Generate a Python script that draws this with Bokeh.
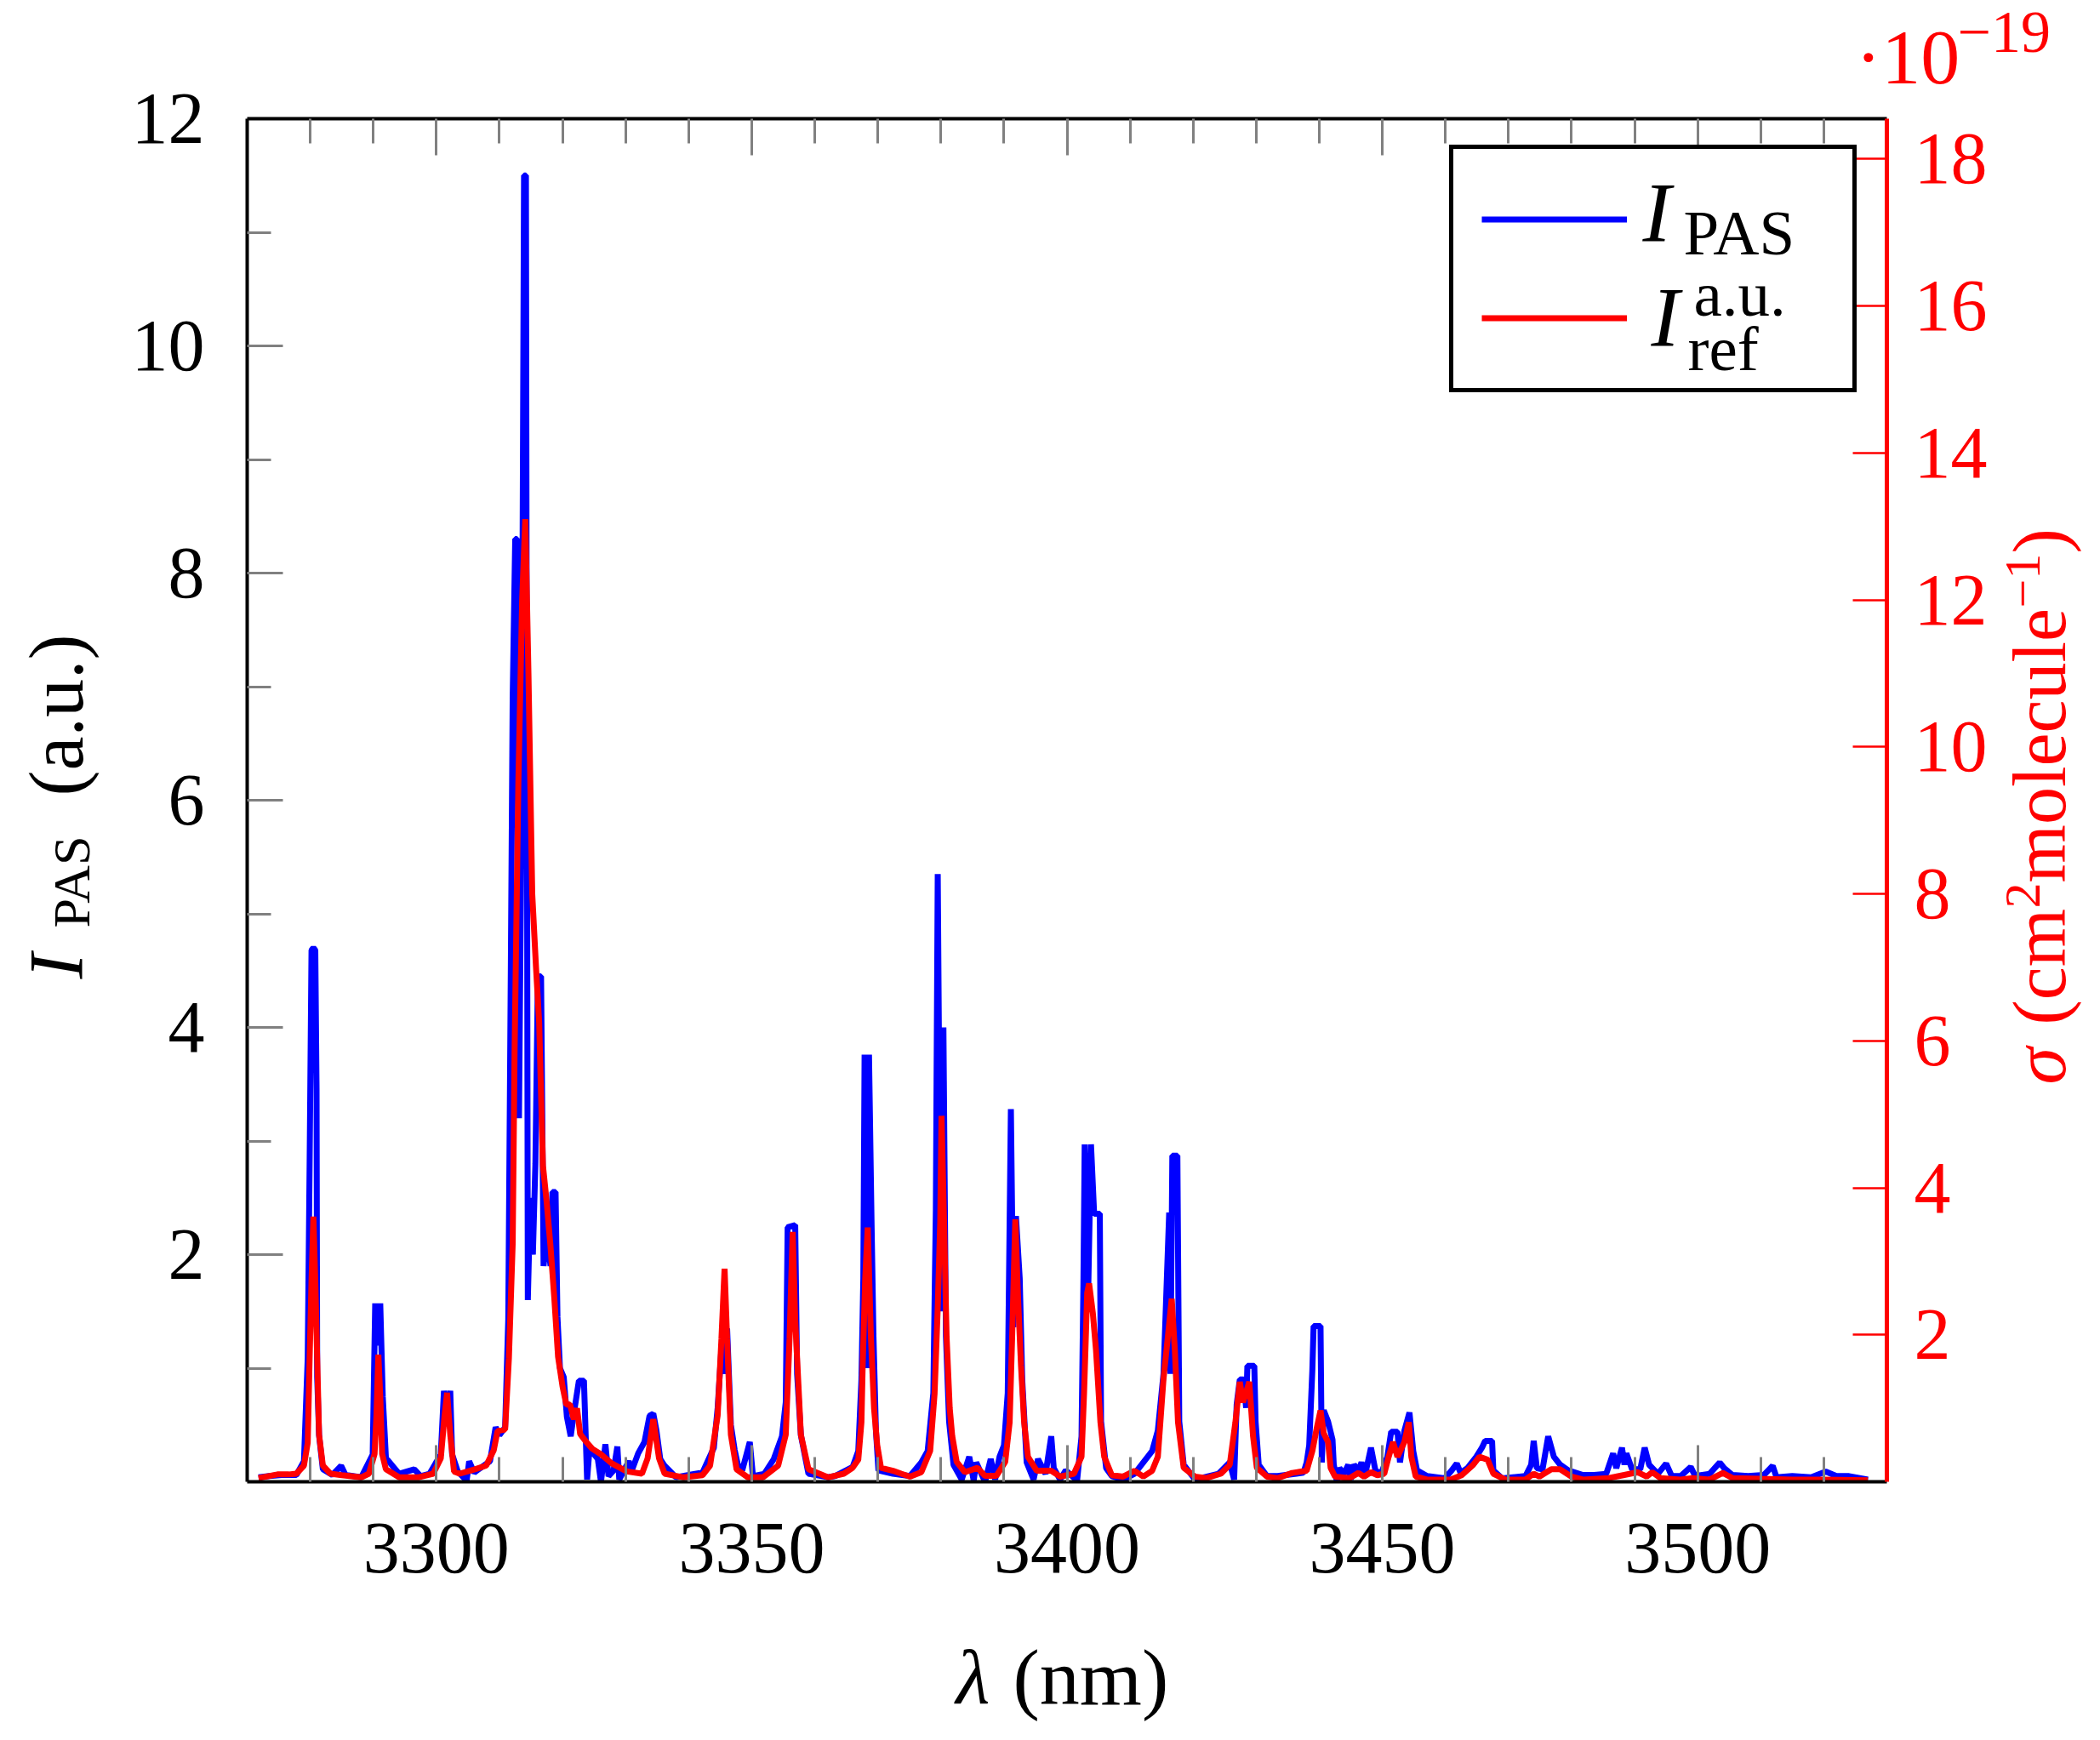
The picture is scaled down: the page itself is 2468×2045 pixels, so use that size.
import math
from bokeh.plotting import figure
from bokeh.models import (Range1d, LinearAxis, FixedTicker, Label, Legend,
                          LegendItem, CustomJSTickFormatter)
from bokeh.core.properties import value
from bokeh.embed import file_html
from bokeh.resources import INLINE

# ---------------- data ----------------
wavelength_pas = [
    3271.8, 3273.5, 3275.5, 3277.8, 3279.0, 3279.6, 3279.9, 3280.2, 3280.5, 3280.8,
    3281.0, 3281.1, 3281.4, 3282.0, 3283.5, 3284.9, 3285.6, 3288.1, 3289.9, 3290.3,
    3290.7, 3291.1, 3291.5, 3292.0, 3294.1, 3296.5, 3297.5, 3298.9, 3300.7, 3301.2,
    3301.7, 3302.2, 3302.5, 3303.4, 3304.8, 3305.2, 3306.0, 3306.7, 3308.5, 3309.4,
    3310.0, 3310.9, 3311.4, 3311.8, 3312.1, 3312.5, 3312.8, 3313.1, 3313.5, 3313.9,
    3314.2, 3314.5, 3314.9, 3315.3, 3315.7, 3316.1, 3316.6, 3317.0, 3317.5, 3318.1,
    3318.4, 3318.9, 3319.2, 3319.6, 3320.2, 3320.7, 3321.3, 3321.8, 3322.6, 3323.4,
    3323.9, 3324.3, 3324.9, 3325.6, 3326.1, 3326.8, 3327.3, 3328.1, 3328.7, 3329.0,
    3330.5, 3331.0, 3332.0, 3333.0, 3333.8, 3334.4, 3334.9, 3335.5, 3336.2, 3338.0,
    3341.0, 3342.2, 3344.0, 3344.6, 3345.2, 3345.7, 3346.1, 3346.7, 3347.3, 3347.8,
    3348.5, 3349.7, 3350.2, 3352.0, 3353.5, 3354.8, 3355.4, 3355.7, 3356.9, 3357.2,
    3357.8, 3359.0, 3362.1, 3363.2, 3366.0, 3366.9, 3367.4, 3367.7, 3367.9, 3368.3,
    3368.6, 3369.0, 3369.3, 3369.7, 3370.1, 3372.4, 3375.1, 3376.9, 3377.9, 3378.8,
    3379.2, 3379.5, 3380.0, 3380.4, 3380.8, 3381.3, 3382.0, 3383.3, 3384.5, 3385.2,
    3385.6, 3387.0, 3387.9, 3388.6, 3389.3, 3390.0, 3390.6, 3391.1, 3391.5, 3391.9,
    3392.5, 3392.9, 3393.6, 3394.7, 3395.4, 3396.6, 3397.5, 3397.9, 3398.9, 3399.8,
    3401.6, 3402.3, 3402.6, 3402.8, 3403.3, 3403.8, 3404.3, 3405.2, 3405.4, 3406.2,
    3407.1, 3408.9, 3410.7, 3413.5, 3414.4, 3415.3, 3416.2, 3416.4, 3416.7, 3417.5,
    3417.8, 3418.5, 3420.3, 3424.0, 3425.8, 3426.5, 3426.9, 3427.4, 3428.0, 3428.4,
    3428.6, 3429.7, 3429.9, 3430.4, 3431.7, 3433.4, 3437.5, 3438.0, 3438.4, 3438.9,
    3439.1, 3440.2, 3440.4, 3440.7, 3441.4, 3442.1, 3442.3, 3442.8, 3443.2, 3443.9,
    3444.6, 3445.0, 3445.5, 3446.2, 3446.7, 3447.3, 3448.2, 3448.9, 3449.8, 3450.8,
    3451.4, 3452.4, 3452.8, 3453.5, 3454.3, 3454.9, 3455.5, 3457.1, 3459.9, 3461.0,
    3461.8, 3462.4, 3463.5, 3464.9, 3465.8, 3466.3, 3467.4, 3467.6, 3469.0, 3472.7,
    3473.6, 3474.0, 3474.5, 3475.4, 3476.3, 3477.2, 3478.2, 3479.5, 3481.8, 3483.6,
    3485.5, 3486.6, 3487.1, 3488.0, 3488.4, 3488.7, 3489.6, 3490.9, 3491.6, 3492.3,
    3493.7, 3495.0, 3495.9, 3497.3, 3498.9, 3499.6, 3501.9, 3503.5, 3504.2, 3505.5,
    3508.0, 3510.5, 3511.9, 3512.5, 3515.0, 3518.0, 3520.3, 3522.0, 3524.0, 3527.0,
]
intensity_pas = [
    0.04, 0.05, 0.06, 0.06, 0.18, 1.09, 2.79, 4.68, 4.70, 4.68,
    3.46, 0.92, 0.41, 0.11, 0.06, 0.14, 0.06, 0.04, 0.24, 1.57,
    1.20, 1.57, 0.75, 0.21, 0.07, 0.11, 0.05, 0.07, 0.24, 0.80,
    0.55, 0.80, 0.24, 0.09, 0.01, 0.18, 0.08, 0.11, 0.18, 0.48,
    0.41, 0.48, 1.43, 4.48, 6.90, 8.30, 8.30, 3.20, 5.80, 11.50,
    11.50, 1.60, 2.50, 2.00, 2.80, 4.45, 4.45, 1.90, 2.20, 1.90,
    2.55, 2.55, 1.45, 1.00, 0.92, 0.57, 0.40, 0.60, 0.89, 0.89,
    0.02, 0.30, 0.25, 0.20, 0.00, 0.33, 0.05, 0.10, 0.31, 0.02,
    0.18, 0.10, 0.25, 0.35, 0.58, 0.60, 0.45, 0.20, 0.14, 0.04,
    0.07, 0.08, 0.30, 0.65, 1.17, 0.95, 1.35, 0.50, 0.28, 0.15,
    0.10, 0.35, 0.05, 0.07, 0.20, 0.40, 0.70, 2.24, 2.26, 0.95,
    0.41, 0.07, 0.04, 0.05, 0.13, 0.27, 0.90, 1.79, 3.76, 1.00,
    3.76, 2.30, 1.30, 0.45, 0.10, 0.07, 0.05, 0.17, 0.27, 0.78,
    2.39, 5.35, 1.50, 4.00, 1.28, 0.53, 0.15, 0.02, 0.22, 0.01,
    0.17, 0.00, 0.20, 0.02, 0.22, 0.32, 0.78, 3.28, 1.36, 2.34,
    1.79, 0.90, 0.17, 0.02, 0.20, 0.07, 0.40, 0.12, 0.02, 0.10,
    0.01, 0.40, 1.74, 2.97, 1.50, 2.97, 2.36, 2.36, 0.53, 0.12,
    0.05, 0.02, 0.07, 0.27, 0.45, 0.95, 2.37, 0.95, 2.87, 2.87,
    0.53, 0.15, 0.02, 0.07, 0.17, 0.02, 0.68, 0.90, 0.90, 0.65,
    1.02, 1.02, 0.53, 0.15, 0.05, 0.05, 0.08, 0.17, 0.32, 0.98,
    1.37, 1.37, 0.17, 0.63, 0.53, 0.37, 0.15, 0.00, 0.12, 0.07,
    0.15, 0.02, 0.15, 0.10, 0.17, 0.07, 0.30, 0.10, 0.07, 0.22,
    0.44, 0.44, 0.17, 0.45, 0.61, 0.27, 0.10, 0.05, 0.03, 0.10,
    0.16, 0.08, 0.12, 0.22, 0.30, 0.36, 0.36, 0.10, 0.03, 0.05,
    0.15, 0.36, 0.12, 0.11, 0.40, 0.22, 0.15, 0.10, 0.06, 0.06,
    0.07, 0.25, 0.12, 0.30, 0.15, 0.25, 0.11, 0.11, 0.30, 0.15,
    0.07, 0.16, 0.05, 0.05, 0.13, 0.05, 0.07, 0.17, 0.12, 0.06,
    0.05, 0.06, 0.14, 0.04, 0.05, 0.04, 0.09, 0.05, 0.05, 0.02,
]

wavelength_ref = [
    3271.8, 3274.8, 3276.6, 3277.8, 3279.0, 3279.6, 3279.9, 3280.2, 3280.5, 3280.8,
    3281.1, 3281.4, 3282.0, 3283.2, 3285.0, 3288.1, 3289.3, 3290.2, 3290.5, 3290.8,
    3291.1, 3291.4, 3292.0, 3294.1, 3297.1, 3299.5, 3300.7, 3301.3, 3301.7, 3302.2,
    3302.8, 3303.7, 3306.1, 3307.9, 3309.1, 3309.7, 3310.9, 3311.5, 3312.1, 3312.4,
    3313.0, 3313.6, 3314.1, 3314.6, 3315.2, 3315.8, 3316.3, 3316.9, 3317.5, 3318.1,
    3318.7, 3319.3, 3320.0, 3320.6, 3321.2, 3321.8, 3322.3, 3322.8, 3323.7, 3324.7,
    3326.0, 3327.8, 3330.2, 3332.6, 3333.5, 3334.4, 3335.3, 3336.2, 3339.2, 3342.2,
    3343.4, 3344.6, 3345.2, 3345.7, 3346.1, 3346.7, 3347.6, 3349.4, 3351.8, 3354.2,
    3355.4, 3356.0, 3356.5, 3356.9, 3357.8, 3359.0, 3362.1, 3364.6, 3366.0, 3366.9,
    3367.4, 3367.6, 3368.0, 3368.4, 3368.7, 3368.9, 3369.4, 3369.9, 3370.5, 3372.4,
    3373.7, 3375.1, 3376.9, 3378.3, 3379.0, 3379.5, 3379.9, 3380.1, 3380.5, 3380.9,
    3381.4, 3381.8, 3382.5, 3383.8, 3385.8, 3387.0, 3388.8, 3390.2, 3390.9, 3391.3,
    3391.8, 3392.2, 3392.7, 3393.2, 3393.8, 3395.2, 3397.5, 3398.9, 3401.1, 3402.3,
    3402.7, 3403.2, 3403.5, 3404.1, 3404.6, 3405.3, 3405.9, 3407.1, 3408.9, 3410.7,
    3412.1, 3413.5, 3414.4, 3415.3, 3416.0, 3416.6, 3417.1, 3417.6, 3418.5, 3420.3,
    3422.1, 3424.4, 3425.8, 3426.7, 3427.4, 3427.9, 3428.9, 3429.5, 3430.1, 3431.7,
    3433.4, 3435.7, 3438.0, 3438.9, 3439.6, 3440.2, 3440.7, 3441.4, 3441.8, 3442.5,
    3444.8, 3446.2, 3447.1, 3448.2, 3449.2, 3450.3, 3451.0, 3451.7, 3452.4, 3453.5,
    3454.2, 3454.6, 3455.3, 3457.1, 3460.8, 3462.6, 3464.4, 3465.4, 3466.7, 3467.6,
    3469.5, 3472.7, 3474.0, 3474.9, 3476.8, 3478.2, 3480.0, 3481.8, 3485.9, 3488.2,
    3490.5, 3491.9, 3492.8, 3494.1, 3497.3, 3499.2, 3501.9, 3504.0, 3505.5, 3510.0,
    3515.0, 3520.0, 3527.0,
]
# absorption cross section, in units of 1e-19 cm^2 molecule^-1
sigma_ref = [
    0.05, 0.10, 0.10, 0.11, 0.22, 0.53, 1.68, 2.72, 3.61, 2.72,
    1.68, 0.64, 0.22, 0.11, 0.09, 0.06, 0.11, 0.38, 0.90, 1.73,
    1.16, 0.38, 0.17, 0.06, 0.06, 0.11, 0.32, 0.90, 1.21, 0.64,
    0.14, 0.11, 0.17, 0.22, 0.43, 0.69, 0.71, 1.68, 3.24, 5.85,
    9.50, 12.00, 13.10, 11.00, 8.00, 7.00, 6.25, 4.30, 3.80, 3.20,
    2.50, 1.70, 1.30, 1.05, 1.05, 0.85, 1.00, 0.65, 0.55, 0.45,
    0.38, 0.25, 0.14, 0.11, 0.32, 0.85, 0.32, 0.11, 0.06, 0.09,
    0.22, 0.90, 1.94, 2.90, 1.94, 0.64, 0.17, 0.06, 0.06, 0.22,
    0.64, 1.94, 3.40, 2.20, 0.64, 0.17, 0.06, 0.11, 0.19, 0.30,
    0.81, 1.59, 2.76, 3.46, 2.57, 1.98, 1.00, 0.50, 0.19, 0.15,
    0.11, 0.07, 0.13, 0.42, 1.20, 2.37, 3.54, 4.98, 3.54, 1.98,
    1.00, 0.62, 0.27, 0.13, 0.19, 0.08, 0.08, 0.27, 0.81, 1.98,
    3.57, 2.57, 1.59, 0.81, 0.34, 0.15, 0.15, 0.07, 0.11, 0.34,
    1.20, 2.57, 2.70, 2.29, 1.79, 0.81, 0.34, 0.09, 0.07, 0.15,
    0.07, 0.15, 0.34, 1.40, 1.98, 2.49, 1.79, 0.81, 0.19, 0.07,
    0.05, 0.11, 0.23, 0.81, 1.36, 1.08, 1.36, 0.62, 0.19, 0.07,
    0.05, 0.12, 0.15, 0.42, 0.73, 0.97, 0.66, 0.54, 0.19, 0.07,
    0.05, 0.12, 0.07, 0.13, 0.09, 0.11, 0.34, 0.54, 0.34, 0.54,
    0.81, 0.34, 0.07, 0.03, 0.03, 0.09, 0.23, 0.34, 0.30, 0.11,
    0.03, 0.03, 0.11, 0.07, 0.17, 0.17, 0.07, 0.03, 0.05, 0.09,
    0.13, 0.07, 0.13, 0.05, 0.03, 0.05, 0.03, 0.12, 0.05, 0.04,
    0.03, 0.03, 0.02,
]

x_major_ticks = [3300, 3350, 3400, 3450, 3500]
x_minor_ticks = [3280, 3290, 3310, 3320, 3330, 3340, 3360, 3370, 3380, 3390,
                 3410, 3420, 3430, 3440, 3460, 3470, 3480, 3490, 3510, 3520]
left_major_ticks = [2, 4, 6, 8, 10]          # "12" sits on the frame corner
left_minor_ticks = [1, 3, 5, 7, 9, 11]
right_major_ticks = [2, 4, 6, 8, 10, 12, 14, 16, 18]

# ---------------- layout constants ----------------
FONT = "Liberation Serif"
GRAY = "#808080"
BLUE = "#0000ff"
RED = "#ff0000"

X0, X1 = 3270.0, 3530.0
Y0, Y1 = 0.0, 12.0
S1 = 18.55

FRAME_L, FRAME_T = 290, 139
FRAME_W, FRAME_H = 1927, 1602
BORDER_R, BORDER_B = 245, 300
CANVAS_W = FRAME_L + FRAME_W + BORDER_R
CANVAS_H = FRAME_T + FRAME_H + BORDER_B

p = figure(frame_width=FRAME_W, frame_height=FRAME_H,
           x_range=Range1d(X0, X1), y_range=Range1d(Y0, Y1),
           output_backend="svg", toolbar_location=None,
           x_axis_location=None, y_axis_location=None,
           min_border_left=FRAME_L, min_border_top=FRAME_T,
           min_border_right=BORDER_R, min_border_bottom=BORDER_B)
p.extra_y_ranges = {"sigma": Range1d(0, S1)}
p.grid.visible = False
p.outline_line_color = None
p.background_fill_color = "white"
p.border_fill_color = "white"


def style_axis(ax, line_color, line_width, tick_color, major_in, minor_in,
               label_color, standoff):
    ax.axis_line_color = line_color
    ax.axis_line_width = line_width
    ax.major_tick_line_color = tick_color
    ax.major_tick_line_width = 3
    ax.major_tick_in = major_in
    ax.major_tick_out = 0
    ax.minor_tick_line_color = tick_color
    ax.minor_tick_line_width = 3
    ax.minor_tick_in = minor_in
    ax.minor_tick_out = 0
    ax.major_label_text_font = FONT
    ax.major_label_text_font_size = "86px"
    ax.major_label_text_color = label_color
    ax.major_label_standoff = standoff


bottom = LinearAxis(ticker=FixedTicker(ticks=x_major_ticks, minor_ticks=x_minor_ticks))
style_axis(bottom, "black", 4, GRAY, 43, 29, "black", 49)
p.add_layout(bottom, "below")

top = LinearAxis(ticker=FixedTicker(ticks=x_major_ticks, minor_ticks=x_minor_ticks),
                 formatter=CustomJSTickFormatter(code="return ''"))
style_axis(top, "black", 4, GRAY, 43, 29, "black", 0)
top.major_label_text_font_size = "1px"
p.add_layout(top, "above")

left = LinearAxis(ticker=FixedTicker(ticks=left_major_ticks, minor_ticks=left_minor_ticks))
style_axis(left, "black", 4, GRAY, 42, 28, "black", 50)
p.add_layout(left, "left")

right = LinearAxis(y_range_name="sigma",
                   ticker=FixedTicker(ticks=right_major_ticks, minor_ticks=[]))
style_axis(right, RED, 5, RED, 40, 0, RED, 32)
right.major_tick_line_width = 2.5
right.minor_tick_line_color = None
p.add_layout(right, "right")

# ---------------- data lines ----------------
r_blue = p.line(wavelength_pas, intensity_pas, line_color=BLUE, line_width=7)
r_red = p.line(wavelength_ref, sigma_ref, line_color=RED, line_width=7,
               y_range_name="sigma")

# ---------------- legend box + line samples ----------------
legend = Legend(items=[LegendItem(label=value(" "), renderers=[r_blue]),
                       LegendItem(label=value(" "), renderers=[r_red])],
                location=(1703 - FRAME_L, FRAME_T + FRAME_H - 461),
                orientation="vertical", padding=33, spacing=17, margin=0,
                glyph_width=171, glyph_height=99, label_width=222,
                label_height=99, label_standoff=10,
                label_text_font_size="10px",
                border_line_color="black", border_line_width=5,
                border_line_alpha=1.0,
                background_fill_color="white", background_fill_alpha=1.0)
p.add_layout(legend)

# ---------------- text layer (same canvas size, pixel coordinates) ----------------
txt = figure(width=CANVAS_W, height=CANVAS_H,
             x_range=Range1d(0, CANVAS_W), y_range=Range1d(CANVAS_H, 0),
             output_backend="svg", toolbar_location=None,
             x_axis_location=None, y_axis_location=None, min_border=0)
txt.grid.visible = False
txt.outline_line_color = None
txt.background_fill_color = None
txt.border_fill_color = None
txt.styles = {"position": "absolute", "left": "0px", "top": "0px"}

ROT = math.pi / 2
MID = 0.3375   # distance baseline -> text middle, in em (Liberation Serif)


def lab(text, px, py, size, color="black", style="normal", align="left",
        angle=0.0):
    """Place text so that its baseline sits at (px, py) (page pixels)."""
    off = MID * size
    if angle == 0.0:
        ax_, ay_ = px, py - off
    else:                       # rotated a quarter turn, reading upwards
        ax_, ay_ = px - off, py
    txt.add_layout(Label(x=ax_, y=ay_, text=text, text_font=FONT,
                         text_font_size=f"{size}px", text_color=color,
                         text_font_style=style, text_align=align,
                         text_baseline="middle", angle=angle))


# top-left tick label of the left axis
txt.add_layout(Label(x=FRAME_L - 50, y=FRAME_T, text="12", text_font=FONT,
                     text_font_size="86px", text_color="black",
                     text_align="right", text_baseline="middle"))

# legend entries
lab("I", 1930, 283, 100, style="italic")
lab("PAS", 1978, 298, 75)
lab("I", 1940, 406, 100, style="italic")
lab("a.u.", 1990, 370, 75)
lab("ref", 1983, 434, 75)

# x axis title
lab("λ", 1123, 2002, 92, style="italic")
lab("(nm)", 1190, 2002, 94)

# left axis title (rotated)
lab("I", 96, 1135, 90, style="italic", align="center", angle=ROT)
lab("PAS", 104, 1036, 62, align="center", angle=ROT)
lab("(a.u.)", 96, 840, 90, align="center", angle=ROT)

# right axis title (rotated, red)
lab("σ", 2427, 1274, 88, color=RED, style="italic", angle=ROT)
lab("(cm", 2427, 1204, 88, color=RED, angle=ROT)
lab("2", 2397, 1067, 60, color=RED, angle=ROT)
lab("molecule", 2427, 1037, 88, color=RED, angle=ROT)
lab("−1", 2397, 714, 60, color=RED, angle=ROT)
lab(")", 2427, 650, 88, color=RED, angle=ROT)

# scale factor of the right axis
lab("·10", 2180, 98, 92, color=RED)
lab("−19", 2300, 61, 70, color=RED)

open("out.html", "w").write(file_html([p, txt], INLINE))
